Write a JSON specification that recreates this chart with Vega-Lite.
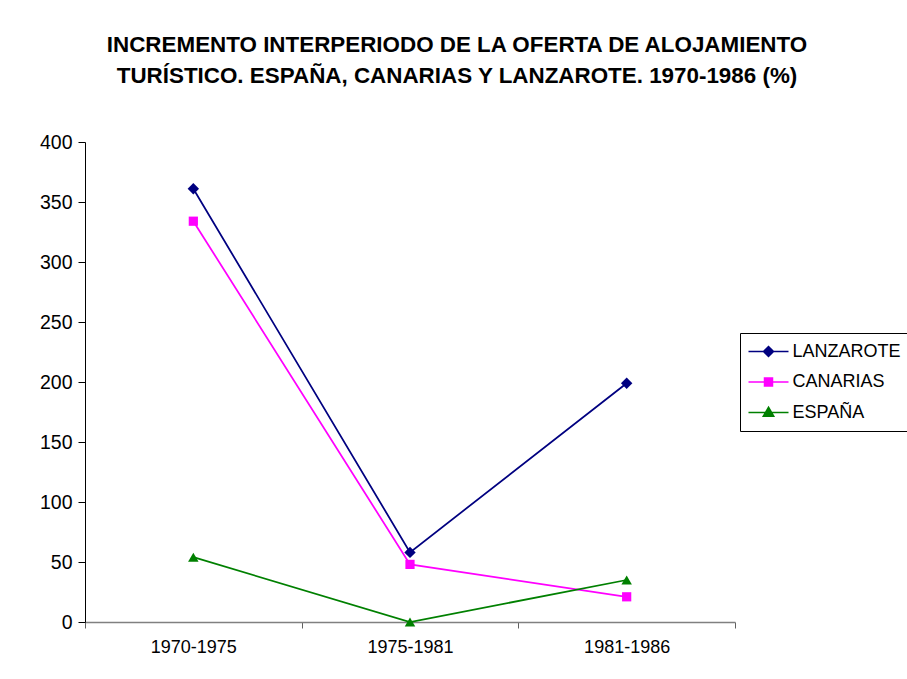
{
  "$schema": "https://vega.github.io/schema/vega-lite/v6.json",
  "width": 650,
  "height": 480,
  "autosize": {"type": "none"},
  "padding": {"left": 85, "top": 142, "right": 172, "bottom": 57},
  "background": "white",
  "config": {
    "view": {"stroke": null},
    "font": "Liberation Sans"
  },
  "title": {
    "text": ["INCREMENTO INTERPERIODO DE LA OFERTA DE ALOJAMIENTO", "TURÍSTICO. ESPAÑA, CANARIAS Y LANZAROTE. 1970-1986 (%)"],
    "font": "Liberation Sans",
    "fontSize": 22.4,
    "fontWeight": "bold",
    "color": "black",
    "lineHeight": 31,
    "anchor": "middle",
    "frame": "group",
    "dx": 47,
    "offset": 45
  },
  "data": {
    "values": [
      {"periodo": "1970-1975", "serie": "LANZAROTE", "valor": 361},
      {"periodo": "1975-1981", "serie": "LANZAROTE", "valor": 58},
      {"periodo": "1981-1986", "serie": "LANZAROTE", "valor": 199},
      {"periodo": "1970-1975", "serie": "CANARIAS", "valor": 334},
      {"periodo": "1975-1981", "serie": "CANARIAS", "valor": 48},
      {"periodo": "1981-1986", "serie": "CANARIAS", "valor": 21},
      {"periodo": "1970-1975", "serie": "ESPAÑA", "valor": 54},
      {"periodo": "1975-1981", "serie": "ESPAÑA", "valor": 0},
      {"periodo": "1981-1986", "serie": "ESPAÑA", "valor": 35}
    ]
  },
  "encoding": {
    "x": {
      "field": "periodo",
      "type": "ordinal",
      "sort": null,
      "scale": {"type": "band", "paddingInner": 0, "paddingOuter": 0},
      "axis": {
        "title": null,
        "labelAngle": 0,
        "labelFont": "Liberation Sans",
        "labelFontSize": 18,
        "labelColor": "black",
        "labelPadding": 10,
        "tickBand": "extent",
        "tickSize": 6,
        "tickColor": "#606060",
        "domainColor": "#808080",
        "domainWidth": 1.5,
        "grid": false
      }
    },
    "y": {
      "field": "valor",
      "type": "quantitative",
      "scale": {"domain": [0, 400], "nice": false},
      "axis": {
        "title": null,
        "values": [0, 50, 100, 150, 200, 250, 300, 350, 400],
        "labelFont": "Liberation Sans",
        "labelFontSize": 19.5,
        "labelColor": "black",
        "labelPadding": 6,
        "tickSize": 7,
        "tickColor": "black",
        "domainColor": "black",
        "grid": false
      }
    },
    "color": {
      "field": "serie",
      "type": "nominal",
      "sort": ["LANZAROTE", "CANARIAS", "ESPAÑA"],
      "scale": {"domain": ["LANZAROTE", "CANARIAS", "ESPAÑA"], "range": ["#000080", "#FF00FF", "#008000"]},
      "legend": {
        "title": null,
        "orient": "none",
        "legendX": 655,
        "legendY": 191,
        "strokeColor": "black",
        "fillColor": "white",
        "padding": 9.5,
        "rowPadding": 12.5,
        "labelFont": "Liberation Sans",
        "labelFontSize": 18,
        "labelColor": "black",
        "symbolSize": 225,
        "symbolOffset": 10,
        "labelOffset": 15,
        "encoding": {
          "symbols": {
            "shape": {"value": {"expr": "datum.value === 'LANZAROTE' ? 'M-2.667,0L2.667,0M0,-0.667L0.667,0L0,0.667L-0.667,0Z' : datum.value === 'CANARIAS' ? 'M-2.667,0L2.667,0M-0.533,-0.533L0.533,-0.533L0.533,0.533L-0.533,0.533Z' : 'M-2.667,0L2.667,0M0,-0.7L0.7,0.5L-0.7,0.5Z'"}},
            "fill": {"value": {"expr": "datum.value === 'LANZAROTE' ? '#000080' : datum.value === 'CANARIAS' ? '#FF00FF' : '#008000'"}},
            "stroke": {"value": {"expr": "datum.value === 'LANZAROTE' ? '#000080' : datum.value === 'CANARIAS' ? '#FF00FF' : '#008000'"}},
            "strokeWidth": {"value": 1.5},
            "size": {"value": 225},
            "opacity": {"value": 1}
          }
        }
      }
    }
  },
  "layer": [
    {
      "mark": {"type": "line", "strokeWidth": 1.75}
    },
    {
      "transform": [{"filter": "datum.serie === 'LANZAROTE'"}],
      "mark": {"type": "point", "filled": true, "opacity": 1, "shape": "diamond", "size": 130}
    },
    {
      "transform": [{"filter": "datum.serie === 'CANARIAS'"}],
      "mark": {"type": "point", "filled": true, "opacity": 1, "shape": "square", "size": 85}
    },
    {
      "transform": [{"filter": "datum.serie === 'ESPAÑA'"}],
      "mark": {"type": "point", "filled": true, "opacity": 1, "shape": "triangle-up", "size": 110}
    }
  ]
}
